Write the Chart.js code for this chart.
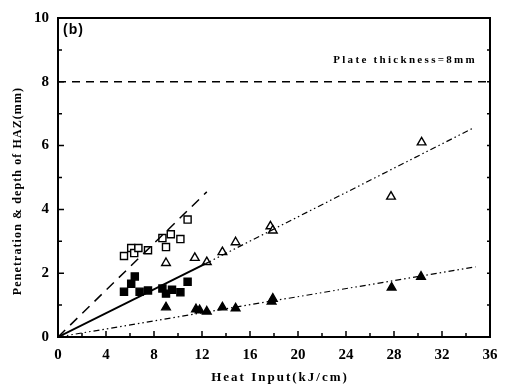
<!DOCTYPE html>
<html>
<head>
<meta charset="utf-8">
<script src="https://cdn.jsdelivr.net/npm/chart.js@4.4.0/dist/chart.umd.min.js"></script>
<style>
  html, body { margin: 0; padding: 0; background: #fff; }
  #wrap { width: 507px; height: 387px; }
</style>
</head>
<body>
<div id="wrap"><canvas id="chart"></canvas></div>
<script>
const openSqX = [5.5, 6.1, 6.35, 6.7, 7.5, 8.7, 9.0, 9.4, 10.2, 10.8];
const openSqY = [2.54, 2.79, 2.63, 2.79, 2.72, 3.1, 2.82, 3.22, 3.07, 3.68];
const fillSqX = [5.5, 6.1, 6.4, 6.8, 7.5, 8.7, 9.0, 9.5, 10.2, 10.8];
const fillSqY = [1.42, 1.67, 1.9, 1.42, 1.46, 1.52, 1.36, 1.48, 1.4, 1.73];
const openTriX = [9.0, 11.4, 12.4, 13.7, 14.8, 17.7, 17.9, 27.75, 30.3];
const openTriY = [2.32, 2.48, 2.35, 2.66, 2.97, 3.47, 3.34, 4.4, 6.1];
const fillTriX = [9.0, 11.5, 11.8, 12.4, 13.7, 14.8, 17.8, 17.9, 27.8, 30.25];
const fillTriY = [0.93, 0.87, 0.84, 0.8, 0.93, 0.9, 1.11, 1.2, 1.55, 1.89];

// fitted lines
const dashLineX = [0, 12.4];
const dashLineY = [0, 4.55];
const solidLineX = [0, 12.3];
const solidLineY = [0, 2.3];
const dotOpenX = [12.3, 34.6];
const dotOpenY = [2.3, 6.55];
const dotFillX = [0, 34.8];
const dotFillY = [0, 2.2];
const plateX = [0, 36];
const plateY = [8, 8];

const xMin = 0, xMax = 36, xStep = 4;
const yMin = 0, yMax = 10, yStep = 2;

const xTitle = 'Heat Input(kJ/cm)';
const yTitle = 'Penetration & depth of HAZ(mm)';
const plateLabel = 'Plate thickness=8mm';
const panelLabel = '(b)';

const pts = (xs, ys) => xs.map((x, i) => ({x: x, y: ys[i]}));
const serif = '"Liberation Serif", "DejaVu Serif", serif';

function lineSet(xs, ys, dash, width) {
    return {
        type: 'line',
        data: pts(xs, ys),
        borderColor: '#000',
        borderWidth: width,
        borderDash: dash,
        pointRadius: 0,
        fill: false
    };
}

function markSet(xs, ys, style, filled) {
    return {
        type: 'scatter',
        data: pts(xs, ys),
        pointStyle: style,
        pointRadius: 5,
        pointBorderWidth: 1.4,
        pointBorderColor: '#000',
        pointBackgroundColor: filled ? '#000' : '#fff'
    };
}

// frame, inward ticks and the free texts
const decor = {
    id: 'decor',
    afterDraw(chart) {
        const ctx = chart.ctx;
        const a = chart.chartArea;
        const xs = chart.scales.x, ys = chart.scales.y;
        ctx.save();
        ctx.strokeStyle = '#000';
        ctx.lineWidth = 2;
        ctx.strokeRect(a.left, a.top, a.right - a.left, a.bottom - a.top);

        ctx.lineWidth = 1.5;
        ctx.beginPath();
        for (let v = xMin; v <= xMax; v += xStep / 2) {
            const px = xs.getPixelForValue(v);
            const len = (v % xStep === 0) ? 6 : 4;
            ctx.moveTo(px, a.bottom);
            ctx.lineTo(px, a.bottom - len);
        }
        for (let v = yMin; v <= yMax; v += yStep / 2) {
            const py = ys.getPixelForValue(v);
            const len = (v % yStep === 0) ? 6 : 4;
            ctx.moveTo(a.left, py);
            ctx.lineTo(a.left + len, py);
            ctx.moveTo(a.right, py);
            ctx.lineTo(a.right - 3, py);
        }
        ctx.stroke();

        ctx.fillStyle = '#000';
        ctx.textBaseline = 'middle';

        ctx.font = 'bold 13px ' + serif;
        ctx.letterSpacing = '2px';
        ctx.textAlign = 'center';
        ctx.fillText(xTitle, 280, 378);

        ctx.save();
        ctx.translate(18, 191);
        ctx.rotate(-Math.PI / 2);
        ctx.font = 'bold 12px ' + serif;
        ctx.letterSpacing = '1.1px';
        ctx.fillText(yTitle, 0, 0);
        ctx.restore();

        ctx.font = 'bold 11px ' + serif;
        ctx.letterSpacing = '2.3px';
        ctx.textAlign = 'right';
        ctx.fillText(plateLabel, a.right - 13, 60);

        ctx.font = 'bold 14px "Liberation Sans", Arial, sans-serif';
        ctx.letterSpacing = '1px';
        ctx.textAlign = 'left';
        ctx.fillText(panelLabel, a.left + 5, 30);
        ctx.restore();
    }
};

new Chart(document.getElementById('chart'), {
    type: 'scatter',
    data: {
        datasets: [
            lineSet(plateX, plateY, [8, 6], 1.5),
            lineSet(dashLineX, dashLineY, [10, 7], 1.5),
            lineSet(solidLineX, solidLineY, [], 2),
            lineSet(dotOpenX, dotOpenY, [6, 3, 1.5, 3, 1.5, 3], 1.2),
            lineSet(dotFillX, dotFillY, [6, 3, 1.5, 3, 1.5, 3], 1.2),
            markSet(openSqX, openSqY, 'rect', false),
            markSet(fillSqX, fillSqY, 'rect', true),
            markSet(openTriX, openTriY, 'triangle', false),
            markSet(fillTriX, fillTriY, 'triangle', true)
        ]
    },
    options: {
        responsive: true,
        maintainAspectRatio: false,
        animation: false,
        layout: { padding: { left: 0, right: 17, top: 13, bottom: 0 } },
        plugins: { legend: { display: false }, tooltip: { enabled: false } },
        scales: {
            x: {
                type: 'linear', min: xMin, max: xMax,
                grid: { display: false, drawTicks: false },
                border: { display: false },
                ticks: { stepSize: xStep, padding: 9, color: '#000', font: { family: serif, size: 15, weight: 'bold' } },
                afterFit(s) { s.height = 50; }
            },
            y: {
                type: 'linear', min: yMin, max: yMax,
                grid: { display: false, drawTicks: false },
                border: { display: false },
                ticks: { stepSize: yStep, padding: 9, color: '#000', font: { family: serif, size: 15, weight: 'bold' } },
                afterFit(s) { s.width = 58; }
            }
        }
    },
    plugins: [decor]
});
</script>
</body>
</html>
